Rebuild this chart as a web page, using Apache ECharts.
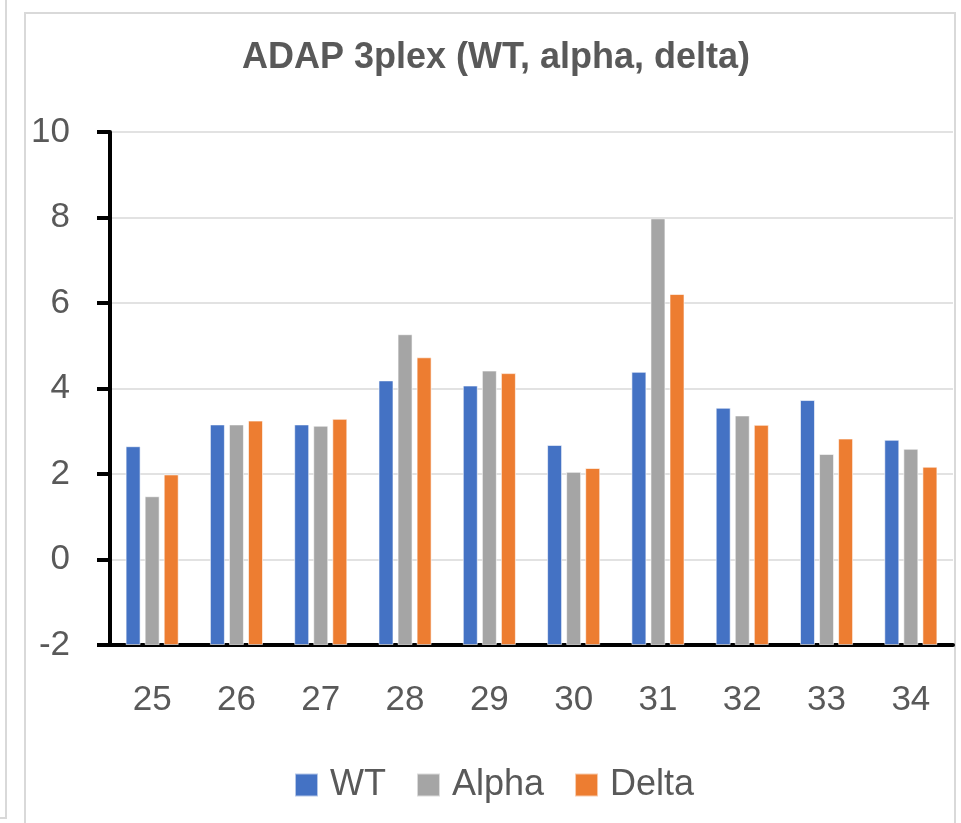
<!DOCTYPE html>
<html>
<head>
<meta charset="utf-8">
<script src="https://cdn.jsdelivr.net/npm/echarts@6/dist/echarts.min.js"></script>
<style>
html,body{margin:0;padding:0;background:#fff;}
#c{width:961px;height:823px;}
</style>
</head>
<body>
<div id="c"></div>
<script>
var categories = ['25','26','27','28','29','30','31','32','33','34'];
var wt    = [2.65, 3.16, 3.16, 4.19, 4.07, 2.68, 4.39, 3.55, 3.73, 2.80];
var alpha = [1.48, 3.16, 3.13, 5.27, 4.42, 2.05, 7.98, 3.37, 2.47, 2.59];
var delta = [1.99, 3.25, 3.29, 4.73, 4.36, 2.14, 6.21, 3.15, 2.83, 2.17];
var seriesNames = ['WT', 'Alpha', 'Delta'];
var colors = ['#4472C4', '#A5A5A5', '#ED7D31'];
var titleText = 'ADAP 3plex (WT, alpha, delta)';

var font = 'Liberation Sans, Arial, sans-serif';
var chart = echarts.init(document.getElementById('c'), null, {renderer: 'canvas'});

function barSeries(name, data, color) {
  return {
    name: name,
    type: 'bar',
    data: data,
    barGap: '27%',
    barCategoryGap: '37%',
    itemStyle: {color: color, borderColor: 'rgba(255,255,255,0.6)', borderWidth: 1},
    emphasis: {disabled: true}
  };
}

chart.setOption({
  animation: false,
  backgroundColor: '#ffffff',
  color: colors,
  title: {
    text: titleText,
    left: 491,
    textAlign: 'center',
    top: 35,
    textStyle: {fontFamily: font, fontSize: 36, fontWeight: 'bold', color: '#595959'}
  },
  legend: {
    data: seriesNames,
    left: 289,
    top: 762,
    itemWidth: 23,
    itemHeight: 23,
    itemGap: 30,
    icon: 'rect',
    textStyle: {fontFamily: font, fontSize: 36, color: '#595959', padding: [0, 0, 0, 7]}
  },
  grid: {left: 110, right: 8, top: 132, bottom: 178, containLabel: false},
  xAxis: {
    type: 'category',
    data: categories,
    axisLine: {onZero: false, lineStyle: {color: '#000', width: 4}},
    axisTick: {show: false},
    axisLabel: {fontFamily: font, fontSize: 35, color: '#595959', margin: 38}
  },
  yAxis: {
    type: 'value',
    min: -2,
    max: 10,
    interval: 2,
    startValue: -2,
    axisLine: {show: true, lineStyle: {color: '#000', width: 4}},
    axisTick: {show: true, inside: false, length: 13, lineStyle: {color: '#000', width: 4}},
    axisLabel: {fontFamily: font, fontSize: 35, color: '#595959', margin: 40},
    splitLine: {show: true, lineStyle: {color: '#D9D9D9', width: 1.5}}
  },
  series: [
    barSeries(seriesNames[0], wt, colors[0]),
    barSeries(seriesNames[1], alpha, colors[1]),
    barSeries(seriesNames[2], delta, colors[2])
  ],
  graphic: [
    {type: 'rect', silent: true, z: -10, shape: {x: 25, y: 13, width: 930, height: 830},
     style: {fill: 'none', stroke: '#D9D9D9', lineWidth: 2}},
    {type: 'polyline', silent: true, z: -10, shape: {points: [[6, 0], [6, 818], [0, 818]]},
     style: {fill: 'none', stroke: '#D9D9D9', lineWidth: 2}}
  ]
});
</script>
</body>
</html>
